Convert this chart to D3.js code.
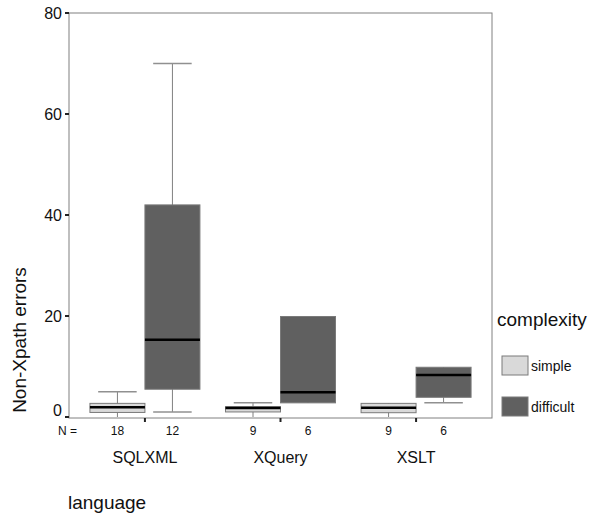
<!DOCTYPE html>
<html>
<head>
<meta charset="utf-8">
<script src="https://cdn.jsdelivr.net/npm/d3@7"></script>
<style>
  body { margin: 0; background: #fff; }
  svg { font-family: "Liberation Sans", Arial, sans-serif; }
</style>
</head>
<body>
<svg id="chart" width="590" height="517"></svg>
<script>
// categories
const languages = ["SQLXML", "XQuery", "XSLT"];
const complexities = ["simple", "difficult"];
const yTicks = [0, 20, 40, 60, 80];

// group sizes (N =), per language
const countsSimple = [18, 9, 9];
const countsDifficult = [12, 6, 6];

// box statistics
const simpleMin = [0, 0, 0];
const simpleQ1 = [0.9, 1, 0.85];
const simpleMedian = [1.95, 1.8, 1.85];
const simpleQ3 = [2.7, 2.05, 2.7];
const simpleMax = [5, 2.8, 2.7];

const difficultMin = [1, 2.8, 2.8];
const difficultQ1 = [5.5, 2.8, 3.9];
const difficultMedian = [15.3, 4.9, 8.3];
const difficultQ3 = [42, 19.9, 9.85];
const difficultMax = [70, 19.9, 9.85];

const colors = { simple: "#d9d9d9", difficult: "#606060" };

const svg = d3.select("#chart");
const plotLeft = 69, plotRight = 492, plotTop = 13, plotBottom = 418;

// scales
const y = d3.scaleLinear().domain([0, 80]).range([417, plotTop]);
const x = d3.scalePoint().domain(languages).range([plotLeft, plotRight]).padding(0.56);
const inner = d3.scaleBand().domain(complexities).range([-55, 55]);

// frame
svg.append("rect")
    .attr("x", plotLeft).attr("y", plotTop)
    .attr("width", plotRight - plotLeft).attr("height", plotBottom - plotTop)
    .attr("fill", "none").attr("stroke", "#808080").attr("stroke-width", 1);

// y axis ticks and labels
const yAxis = svg.append("g");
yAxis.selectAll("line").data(yTicks).enter().append("line")
    .attr("x1", plotLeft - 4).attr("x2", plotLeft)
    .attr("y1", d => y(d)).attr("y2", d => y(d))
    .attr("stroke", "#222").attr("stroke-width", 2);
yAxis.selectAll("text").data(yTicks).enter().append("text")
    .attr("x", plotLeft - 7).attr("y", d => y(d))
    .attr("dy", d => d === 0 ? "-0.05em" : "0.35em").attr("text-anchor", "end")
    .attr("font-size", 16).attr("fill", "#111")
    .text(d => d);

// x ticks at group centres
svg.append("g").selectAll("line").data(languages).enter().append("line")
    .attr("x1", d => x(d)).attr("x2", d => x(d))
    .attr("y1", plotBottom).attr("y2", plotBottom + 4)
    .attr("stroke", "#222").attr("stroke-width", 2);

// build box records
const boxes = [];
languages.forEach((lang, i) => {
    boxes.push({ lang, comp: "simple", n: countsSimple[i], min: simpleMin[i], q1: simpleQ1[i],
        med: simpleMedian[i], q3: simpleQ3[i], max: simpleMax[i] });
    boxes.push({ lang, comp: "difficult", n: countsDifficult[i], min: difficultMin[i], q1: difficultQ1[i],
        med: difficultMedian[i], q3: difficultQ3[i], max: difficultMax[i] });
});

const bw = inner.bandwidth();
const capW = bw * 0.7;

const g = svg.selectAll(".box").data(boxes).enter().append("g")
    .attr("class", "box")
    .attr("transform", d => `translate(${x(d.lang) + inner(d.comp)},0)`);

// whiskers
g.append("line")
    .attr("x1", bw / 2).attr("x2", bw / 2)
    .attr("y1", d => y(d.max)).attr("y2", d => y(d.min))
    .attr("stroke", "#808080").attr("stroke-width", 1);
g.filter(d => d.max > d.q3).append("line")
    .attr("x1", (bw - capW) / 2).attr("x2", (bw + capW) / 2)
    .attr("y1", d => y(d.max)).attr("y2", d => y(d.max))
    .attr("stroke", "#909090").attr("stroke-width", 1.5);
g.filter(d => d.min < d.q1 && d.min > 0).append("line")
    .attr("x1", (bw - capW) / 2).attr("x2", (bw + capW) / 2)
    .attr("y1", d => y(d.min)).attr("y2", d => y(d.min))
    .attr("stroke", "#909090").attr("stroke-width", 1.5);

// boxes
g.append("rect")
    .attr("x", 0).attr("width", bw)
    .attr("y", d => y(d.q3)).attr("height", d => y(d.q1) - y(d.q3))
    .attr("fill", d => colors[d.comp])
    .attr("stroke", "#7a7a7a").attr("stroke-width", 1);

// medians
g.append("line")
    .attr("x1", 0).attr("x2", bw)
    .attr("y1", d => y(d.med)).attr("y2", d => y(d.med))
    .attr("stroke", "#000").attr("stroke-width", 2.5);

// N = row
svg.append("text").attr("x", 58).attr("y", 435)
    .attr("font-size", 12).attr("fill", "#111").text("N =");
g.append("text")
    .attr("x", bw / 2).attr("y", 435)
    .attr("text-anchor", "middle").attr("font-size", 12).attr("fill", "#111")
    .text(d => d.n);

// category labels
svg.append("g").selectAll("text").data(languages).enter().append("text")
    .attr("x", d => x(d)).attr("y", 463)
    .attr("text-anchor", "middle").attr("font-size", 16).attr("fill", "#111")
    .text(d => d);

// axis titles
svg.append("text").attr("x", 68).attr("y", 509)
    .attr("font-size", 19).attr("fill", "#111").text("language");
svg.append("text")
    .attr("transform", "translate(26,340) rotate(-90)")
    .attr("text-anchor", "middle").attr("font-size", 19).attr("fill", "#111")
    .text("Non-Xpath errors");

// legend
svg.append("text").attr("x", 497).attr("y", 326)
    .attr("font-size", 19).attr("fill", "#111").text("complexity");
const leg = svg.selectAll(".leg").data(complexities).enter().append("g")
    .attr("class", "leg")
    .attr("transform", (d, i) => `translate(502,${356 + i * 41})`);
leg.append("rect").attr("width", 26).attr("height", 19)
    .attr("fill", d => colors[d]).attr("stroke", "#7a7a7a");
leg.append("text").attr("x", 29).attr("y", 10).attr("dy", "0.35em")
    .attr("font-size", 14).attr("fill", "#111").text(d => d);
</script>
</body>
</html>
